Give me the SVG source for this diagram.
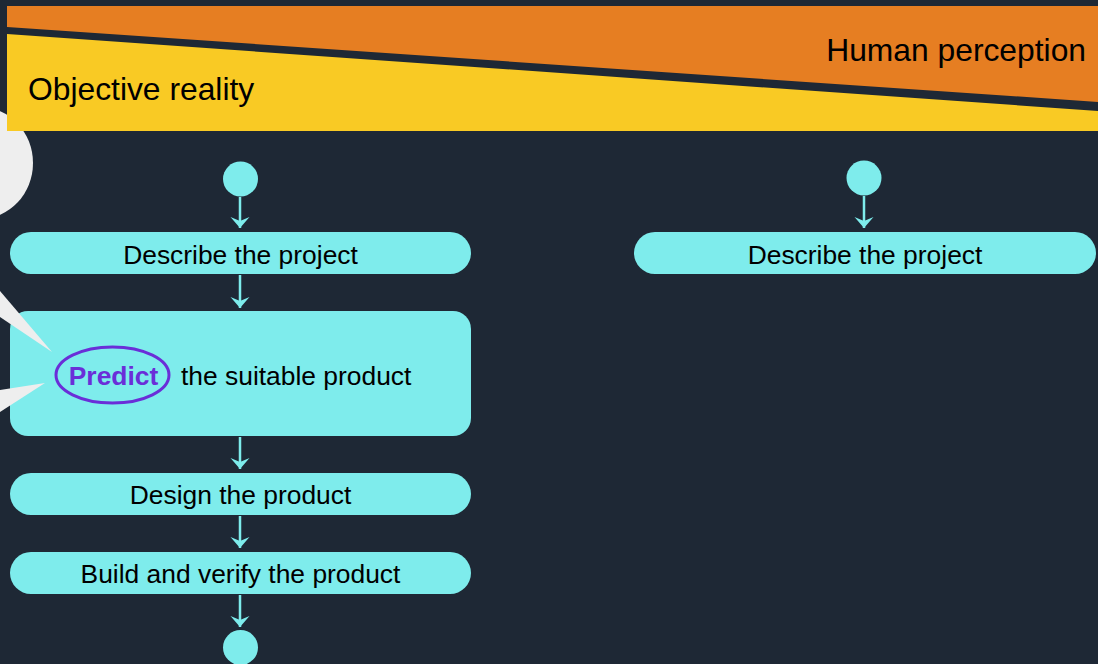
<svg xmlns="http://www.w3.org/2000/svg" width="1098" height="664" viewBox="0 0 1098 664">
<style>
.node{fill:#7eecec}
.lbl{font-family:"Liberation Sans",Arial,sans-serif;font-size:26.4px;fill:#000}
.hdr{font-family:"Liberation Sans",Arial,sans-serif;font-size:31.8px;fill:#000}
.conn line{stroke:#7eecec;stroke-width:2.5}
.bubble{fill:#eeeeee}
</style>
<defs>
<marker id="arr" viewBox="-12 -10 13 20" refX="0" refY="0" markerWidth="13" markerHeight="20" orient="auto" markerUnits="userSpaceOnUse">
<path d="M0,0 L-11,-9.5 L-7,0 L-11,9.5 Z" fill="#7eecec"/>
</marker>
</defs>
<rect width="1098" height="664" fill="#1e2835"/>
<g id="bubble-body">
<ellipse class="bubble" cx="-20" cy="163" rx="53" ry="56"/>
</g>
<g id="banner">
<polygon points="7,6 1098,6 1098,102 7,27" fill="#e67e22"/>
<polygon points="7,34 1098,111 1098,131 7,131" fill="#f9ca24"/>
<text class="hdr" x="1086" y="61" text-anchor="end">Human perception</text>
<text class="hdr" x="28" y="100">Objective reality</text>
</g>
<g id="connectors" class="conn">
<line x1="240" y1="197" x2="240" y2="228" marker-end="url(#arr)"/>
<line x1="240" y1="275" x2="240" y2="308" marker-end="url(#arr)"/>
<line x1="240" y1="437" x2="240" y2="469" marker-end="url(#arr)"/>
<line x1="240" y1="516" x2="240" y2="548" marker-end="url(#arr)"/>
<line x1="240" y1="595" x2="240" y2="627" marker-end="url(#arr)"/>
<line x1="864" y1="196" x2="864" y2="228" marker-end="url(#arr)"/>
</g>
<g id="start-left"><circle class="node" cx="240.5" cy="179" r="17.5"/></g>
<g id="describe-left">
<rect class="node" x="10" y="232" width="461" height="42" rx="21"/>
<text class="lbl" x="240.5" y="264" text-anchor="middle">Describe the project</text>
</g>
<g id="predict">
<rect class="node" x="10" y="311" width="461" height="125" rx="18"/>
<ellipse cx="112.5" cy="375" rx="56.5" ry="28" fill="none" stroke="#6a2ed8" stroke-width="3"/>
<text class="lbl" x="113.5" y="385" text-anchor="middle" font-weight="bold" style="fill:#6a2ed8">Predict</text>
<text class="lbl" x="181" y="385">the suitable product</text>
</g>
<g id="design">
<rect class="node" x="10" y="473" width="461" height="42" rx="21"/>
<text class="lbl" x="240.5" y="504" text-anchor="middle">Design the product</text>
</g>
<g id="build">
<rect class="node" x="10" y="552" width="461" height="42" rx="21"/>
<text class="lbl" x="240.5" y="583" text-anchor="middle">Build and verify the product</text>
</g>
<g id="end-left"><circle class="node" cx="240.5" cy="647.5" r="17.5"/></g>
<g id="start-right"><circle class="node" cx="864" cy="178" r="17.5"/></g>
<g id="describe-right">
<rect class="node" x="634" y="232" width="462" height="42" rx="21"/>
<text class="lbl" x="865" y="264" text-anchor="middle">Describe the project</text>
</g>
<g id="bubble-tails">
<polygon class="bubble" points="0,291 52,352 0,317"/>
<polygon class="bubble" points="0,390 45,383 0,412"/>
</g>
</svg>
